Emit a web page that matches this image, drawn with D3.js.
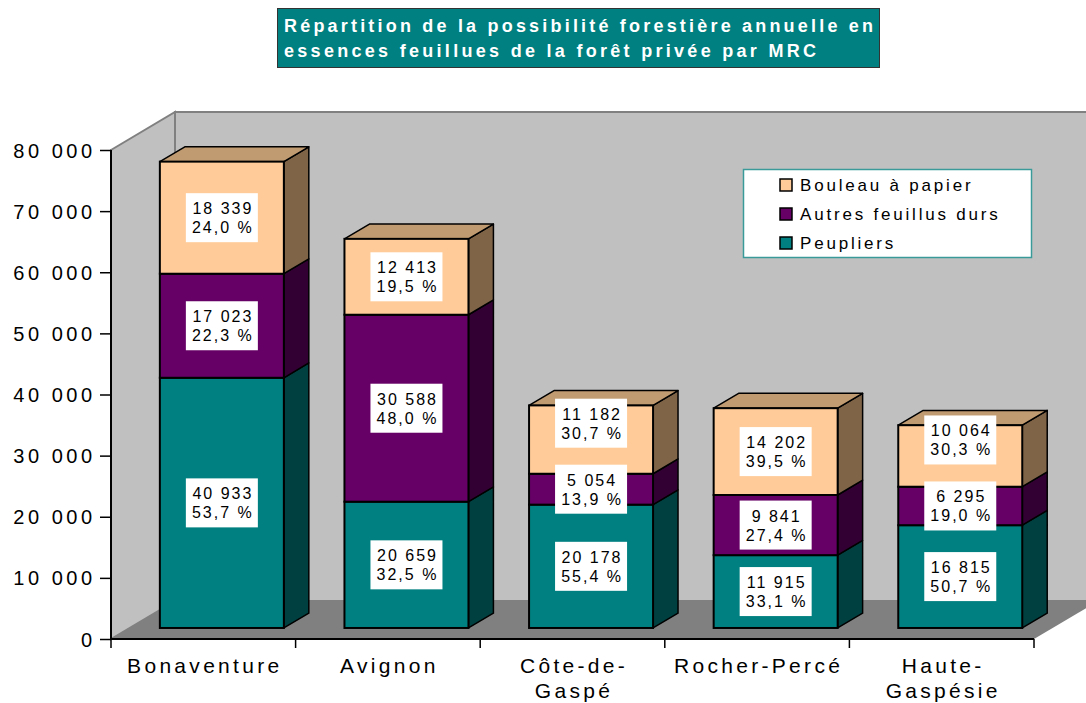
<!DOCTYPE html>
<html>
<head>
<meta charset="utf-8">
<script src="https://cdn.jsdelivr.net/npm/d3@7"></script>
<style>
  body { margin: 0; background: #fff; }
  svg { display: block; font-family: "Liberation Sans", Arial, sans-serif; }
</style>
</head>
<body>
<script>
// data
var categories = ["Bonaventure", "Avignon", "Côte-de-Gaspé", "Rocher-Percé", "Haute-Gaspésie"];
var categoryLines = [["Bonaventure"], ["Avignon"], ["Côte-de-", "Gaspé"], ["Rocher-Percé"], ["Haute-", "Gaspésie"]];
var peupliers = [40933, 20659, 20178, 11915, 16815];
var autresFeuillus = [17023, 30588, 5054, 9841, 6295];
var bouleau = [18339, 12413, 11182, 14202, 10064];
var seriesNames = ["Peupliers", "Autres feuillus durs", "Bouleau à papier"];
var yTicks = [0, 10000, 20000, 30000, 40000, 50000, 60000, 70000, 80000];
var titleLines = ["Répartition de la possibilité forestière annuelle en",
                  "essences feuillues de la forêt privée par MRC"];

var w = 1086, h = 703;
var front = ["#008080", "#660066", "#ffcc99"],
    side = ["#004040", "#330033", "#806448"],
    topColor = "#c09a70";

var fr = d3.formatLocale({decimal: ",", thousands: " ", grouping: [3], currency: ["", " €"]});
var fmtNum = fr.format(",d"),
    fmtPct = fr.format(".1f");

var svg = d3.select("body").append("svg").attr("width", w).attr("height", h);

// plot geometry
var x0 = 111, x1 = 1034, yBase = 639, yTop = 150;
var depth = {dx: 64, dy: -38};
var barFront = 0.29, barBack = 0.68;

var y = d3.scaleLinear().domain([0, 80000]).range([yBase, yTop]);
var p = 1 - 124 / ((x1 - x0) / categories.length);
var x = d3.scaleBand().domain(categories).range([x0, x1]).paddingInner(p).paddingOuter(p / 2);

// walls and floor
var g = svg.append("g");
g.append("polygon")
  .attr("points", [[x0 + depth.dx, yTop + depth.dy], [w + 40, yTop + depth.dy], [w + 40, yBase + depth.dy], [x0 + depth.dx, yBase + depth.dy]].join(" "))
  .attr("fill", "#c0c0c0").attr("stroke", "#808080").attr("stroke-width", 2);
g.append("polygon")
  .attr("points", [[x0, yTop], [x0 + depth.dx, yTop + depth.dy], [x0 + depth.dx, yBase + depth.dy], [x0, yBase]].join(" "))
  .attr("fill", "#c0c0c0").attr("stroke", "#808080").attr("stroke-width", 2);
g.append("polygon")
  .attr("points", [[x0, yBase], [x0 + depth.dx, yBase + depth.dy], [x1 + depth.dx, yBase + depth.dy], [x1, yBase]].join(" "))
  .attr("fill", "#808080");

// stacked bars
var series = [peupliers, autresFeuillus, bouleau];
var rows = categories.map(function(c, i){
  var r = {cat: c};
  seriesNames.forEach(function(s, k){ r[s] = series[k][i]; });
  return r;
});
var stacked = d3.stack().keys(seriesNames)(rows);

var fdx = depth.dx * barFront, fdy = depth.dy * barFront;
var bdx = depth.dx * (barBack - barFront), bdy = depth.dy * (barBack - barFront);
var bw = x.bandwidth();
var bars = svg.append("g");

stacked.forEach(function(layer, k){
  layer.forEach(function(d, i){
    var left = x(categories[i]) + fdx, right = left + bw;
    var top = y(d[1]) + fdy, bot = y(d[0]) + fdy;
    bars.append("polygon")
      .attr("points", [[right, top], [right + bdx, top + bdy], [right + bdx, bot + bdy], [right, bot]].join(" "))
      .attr("fill", side[k]).attr("stroke", "#000").attr("stroke-width", 1.5).attr("stroke-linejoin", "round");
    if (k === stacked.length - 1) {
      bars.append("polygon")
        .attr("points", [[left, top], [left + bdx, top + bdy], [right + bdx, top + bdy], [right, top]].join(" "))
        .attr("fill", topColor).attr("stroke", "#000").attr("stroke-width", 1.5).attr("stroke-linejoin", "round");
    }
    bars.append("rect")
      .attr("x", left).attr("y", top).attr("width", bw).attr("height", bot - top)
      .attr("fill", front[k]).attr("stroke", "#000").attr("stroke-width", 2);
  });
});

// data labels
var boxW = 72, boxH = 49;
var labels = svg.append("g");
categories.forEach(function(c, i){
  var total = peupliers[i] + autresFeuillus[i] + bouleau[i];
  var prevTop = null;
  stacked.forEach(function(layer, k){
    var d = layer[i];
    var cx = x(c) + fdx + bw / 2;
    var cy = (y(d[0]) + y(d[1])) / 2 + fdy;
    var bt = cy - boxH / 2;
    if (prevTop !== null && prevTop - (bt + boxH) < 6) bt = prevTop - 17 - boxH;
    prevTop = bt;
    var v = series[k][i];
    labels.append("rect").attr("x", cx - boxW / 2).attr("y", bt).attr("width", boxW).attr("height", boxH).attr("fill", "#fff");
    var t = labels.append("text").attr("font-size", 16).attr("letter-spacing", 2).attr("text-anchor", "middle").attr("fill", "#000");
    t.append("tspan").attr("x", cx + 1).attr("y", bt + 21).text(fmtNum(v));
    t.append("tspan").attr("x", cx + 1).attr("y", bt + 40).text(fmtPct(v / total * 100) + " %");
  });
});

// axes
var yAxis = svg.append("g").attr("transform", "translate(" + x0 + ",0)")
  .call(d3.axisLeft(y).tickValues(yTicks).tickSize(11).tickSizeOuter(0).tickPadding(4.5).tickFormat(fmtNum));
yAxis.select(".domain").remove();
yAxis.selectAll("line").attr("stroke", "#000").attr("stroke-width", 1.5);
yAxis.selectAll("text").attr("font-size", 20).attr("letter-spacing", 3.5).attr("fill", "#000")
  .attr("font-family", "Liberation Sans, Arial, sans-serif").attr("dy", "0.35em");

svg.append("line").attr("x1", x0).attr("x2", x0).attr("y1", yTop).attr("y2", yBase).attr("stroke", "#000").attr("stroke-width", 2);
svg.append("line").attr("x1", x0).attr("x2", x1).attr("y1", yBase).attr("y2", yBase).attr("stroke", "#000").attr("stroke-width", 2);

var xg = svg.append("g");
d3.range(categories.length + 1).forEach(function(i){
  var xx = x0 + i * x.step();
  xg.append("line").attr("x1", xx).attr("x2", xx).attr("y1", yBase).attr("y2", yBase + 9).attr("stroke", "#000").attr("stroke-width", 1.5);
});
categoryLines.forEach(function(lines, i){
  var cx = x(categories[i]) + bw / 2;
  var t = xg.append("text").attr("font-size", 21).attr("letter-spacing", 3.3).attr("text-anchor", "middle").attr("fill", "#000");
  lines.forEach(function(l, j){
    t.append("tspan").attr("x", cx + 1.5).attr("y", 673 + j * 25).text(l);
  });
});

// legend
var lg = svg.append("g");
lg.append("rect").attr("x", 743.5).attr("y", 169.5).attr("width", 288).attr("height", 88)
  .attr("fill", "#fff").attr("stroke", "#3a9a9a").attr("stroke-width", 1.5);
[2, 1, 0].forEach(function(k, j){
  var yy = 185 + j * 29;
  lg.append("rect").attr("x", 780).attr("y", yy - 6).attr("width", 12).attr("height", 12)
    .attr("fill", front[k]).attr("stroke", "#000").attr("stroke-width", 1.5);
  lg.append("text").attr("x", 800).attr("y", yy + 6).attr("font-size", 17).attr("letter-spacing", 2.8)
    .attr("fill", "#000").text(seriesNames[k]);
});

// title
var tg = svg.append("g");
tg.append("rect").attr("x", 277.5).attr("y", 8.5).attr("width", 602).attr("height", 59)
  .attr("fill", "#008080").attr("stroke", "#333").attr("stroke-width", 1);
var titleWidths = [589, 532];
titleLines.forEach(function(l, j){
  tg.append("text").attr("x", 284).attr("y", 32 + j * 25).attr("font-size", 18).attr("font-weight", "bold")
    .attr("fill", "#fff").attr("textLength", titleWidths[j]).attr("lengthAdjust", "spacing").text(l);
});
</script>
</body>
</html>
